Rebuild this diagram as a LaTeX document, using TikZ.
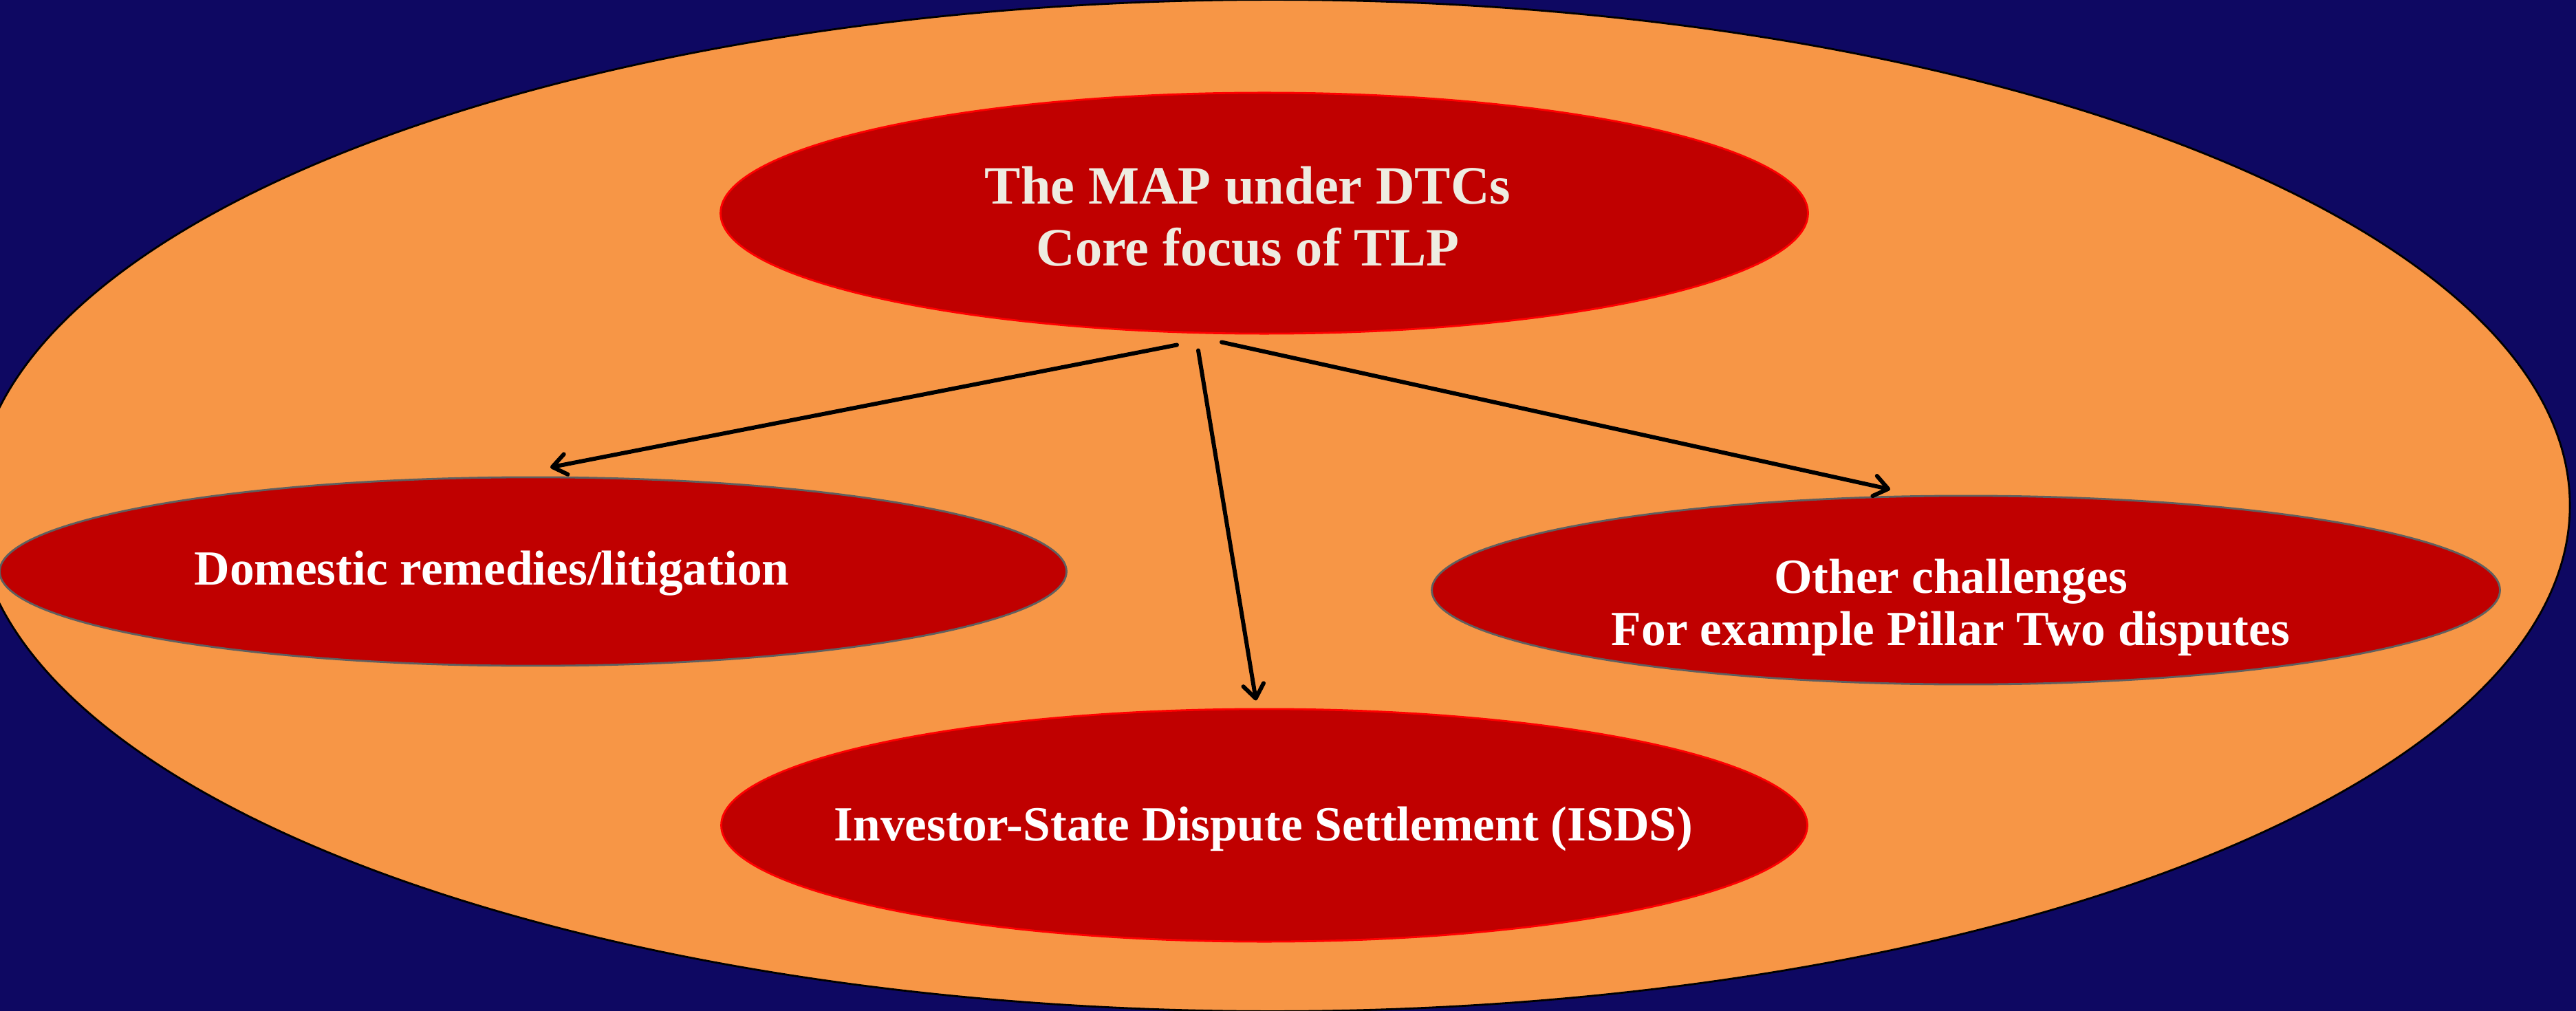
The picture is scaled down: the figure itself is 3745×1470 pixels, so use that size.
\documentclass[tikz,border=0pt]{standalone}
\usepackage{fontspec}
\setmainfont{Liberation Serif}
\usetikzlibrary{shapes.geometric,arrows.meta,calc}
\definecolor{navy}{RGB}{14,8,98}
\definecolor{sandorange}{HTML}{F79646}
\definecolor{darkred}{HTML}{C00000}
\definecolor{rimgray}{HTML}{5F5F5F}
\definecolor{cream}{HTML}{EEECE1}
\begin{document}
\begin{tikzpicture}[x=0.01cm,y=-0.01cm,
  oval/.style={ellipse, inner sep=0pt, fill=darkred, line width=0.8pt},
  hot/.style={oval, draw=red},
  cool/.style={oval, draw=rimgray},
  lbl/.style={text=white, font=\bfseries\fontsize{20.3}{21.6}\selectfont,
              align=center, anchor=base, inner sep=0pt},
  link/.style={line width=1.7pt, line cap=round,
               -{Straight Barb[round,length=5.7pt,width=8.5pt]}}]
% backdrop
\fill[navy] (0,0) rectangle (3745,1470);
\useasboundingbox (0,0) rectangle (3745,1470);
\clip (0,0) rectangle (3745,1470);
% large field
\node[ellipse, draw=black, line width=0.8pt, fill=sandorange, inner sep=0pt,
      minimum width=37.70cm, minimum height=14.70cm] (field) at (1850,735) {};
% topic ovals
\node[hot,  minimum width=15.80cm, minimum height=3.50cm] (top)   at (1838,310)  {};
\node[cool, minimum width=15.50cm, minimum height=2.74cm] (dom)   at (775,831)   {};
\node[cool, minimum width=15.52cm, minimum height=2.74cm] (other) at (2858,858)  {};
\node[hot,  minimum width=15.78cm, minimum height=3.38cm] (isds)  at (1838,1200) {};
% labels (base anchor sits on the last line's baseline)
\node[lbl, text=cream, font=\bfseries\fontsize{22.3}{25.6}\selectfont] (toptext) at (1814,387)
  {The MAP under DTCs\\Core focus of TLP};
\node[lbl] (domtext) at (715,850) {Domestic remedies/litigation};
\node[lbl] (othertext) at (2836,938) {Other challenges\\For example Pillar Two disputes};
\node[lbl] (isdstext) at (1837,1222) {Investor-State Dispute Settlement (ISDS)};
% connectors
\coordinate (sl) at ($(top.south)+(-127,15)$);
\coordinate (sm) at ($(top.south)+(-96,23)$);
\coordinate (sr) at ($(top.south)+(-62,11)$);
\coordinate (el) at ($(dom.north)+(25,-13)$);
\coordinate (em) at ($(isds.north)+(-12,-11)$);
\coordinate (er) at ($(other.north)+(-110,-8)$);
\draw[link] (sl) -- (el);
\draw[link] (sm) -- (em);
\draw[link] (sr) -- (er);
\end{tikzpicture}
\end{document}
